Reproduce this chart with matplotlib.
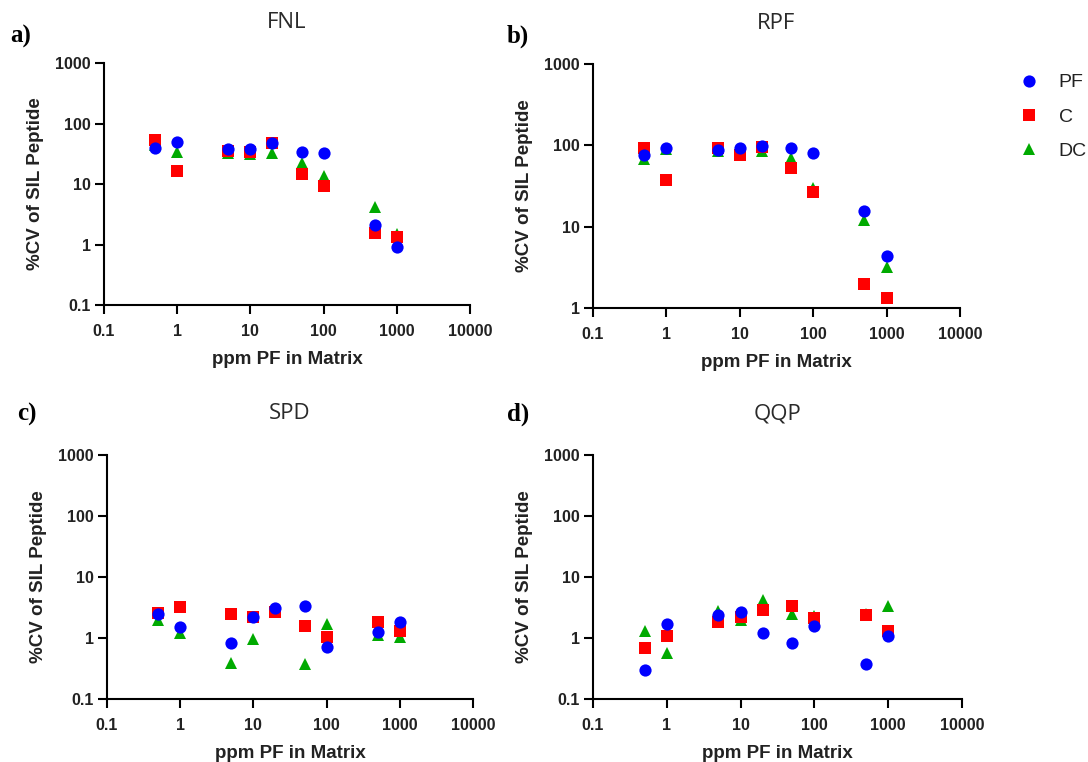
import matplotlib
matplotlib.use('Agg')
import matplotlib.pyplot as plt
from matplotlib.lines import Line2D


conc = [0.5, 1, 5, 10, 20, 50, 100, 500, 1000]
series_names = ['PF', 'C', 'DC']

fnl_pf = [40, 49, 38, 38, 48, 33.5, 32, 2.1, 0.92]
fnl_c = [53, 16.5, 35, 34, 48, 14.5, 9.3, 1.53, 1.35]
fnl_dc = [45, 34, 32.5, 31.5, 32, 22.5, 13.6, 4.1, 1.5]

rpf_pf = [76, 92, 88, 92, 99, 92, 81, 15.7, 4.35]
rpf_c = [94, 38, 94, 76, 96, 52, 27, 1.97, 1.32]
rpf_dc = [67, 90, 86, 88, 86, 69, 30, 12, 3.16]

spd_pf = [2.5, 1.5, 0.83, 2.2, 3.16, 3.37, 0.71, 1.25, 1.8]
spd_c = [2.6, 3.2, 2.5, 2.2, 2.7, 1.58, 1.02, 1.82, 1.28]
spd_dc = [1.94, 1.2, 0.39, 0.97, 2.8, 0.38, 1.7, 1.1, 1.05]

qqp_pf = [0.3, 1.69, 2.34, 2.65, 1.19, 0.83, 1.58, 0.38, 1.06]
qqp_c = [0.68, 1.06, 1.86, 2.2, 2.9, 3.3, 2.1, 2.4, 1.28]
qqp_dc = [1.28, 0.57, 2.8, 2.0, 4.2, 2.5, 2.3, 2.5, 3.4]

x_ticks = [0.1, 1, 10, 100, 1000, 10000]
x_tick_labels = ['0.1', '1', '10', '100', '1000', '10000']
y_ticks = [0.1, 1, 10, 100, 1000]
y_tick_labels = ['0.1', '1', '10', '100', '1000']

COLORS = {'PF': '#0000FF', 'C': '#FF0000', 'DC': '#00AA00'}
MARKERS = {'PF': 'o', 'C': 's', 'DC': '^'}
SIZES = {'PF': 8.8, 'C': 8.2, 'DC': 8.6}
ZORDER = {'PF': 5, 'C': 4, 'DC': 3}

SANS = ['Liberation Sans', 'DejaVu Sans']
TEXT_GREY = '#222222'


def draw_panel(fig, rect, title, series, y_min):
    ax = fig.add_axes(rect)
    ax.set_xscale('log')
    ax.set_yscale('log')

    # green first, then red, blue on top (as in the reference)
    for name in ['DC', 'C', 'PF']:
        ax.plot(conc, series[name], linestyle='none',
                marker=MARKERS[name], markersize=SIZES[name],
                color=COLORS[name], markeredgewidth=0,
                zorder=ZORDER[name], clip_on=False)

    ax.set_xlim(0.1, 10000)
    ax.set_ylim(y_min, 1000)

    ax.set_xticks(x_ticks)
    ax.set_xticklabels(x_tick_labels)
    yt = [(t, l) for t, l in zip(y_ticks, y_tick_labels) if t >= y_min]
    ax.set_yticks([t for t, _ in yt])
    ax.set_yticklabels([l for _, l in yt])
    ax.minorticks_off()

    for side in ['top', 'right']:
        ax.spines[side].set_visible(False)
    for side in ['left', 'bottom']:
        ax.spines[side].set_linewidth(1.5)
        ax.spines[side].set_color('black')

    ax.tick_params(axis='both', direction='out', length=6.5, width=1.5,
                   colors='black', labelcolor=TEXT_GREY, labelsize=11.5)
    ax.tick_params(axis='x', pad=7)
    ax.tick_params(axis='y', pad=3)
    for lab in ax.get_xticklabels() + ax.get_yticklabels():
        lab.set_fontweight('bold')
        lab.set_family(SANS)

    ax.set_xlabel('ppm PF in Matrix', fontsize=13.5, fontweight='bold',
                  family=SANS, color=TEXT_GREY, labelpad=9)
    ax.set_ylabel('%CV of SIL Peptide', fontsize=13.5, fontweight='bold',
                  family=SANS, color=TEXT_GREY, labelpad=8)

    ax.text(0.5, 1.0 + 41 / (rect[3] * 762), title, transform=ax.transAxes,
            ha='center', va='center', fontsize=16, color='#2a2a2a',
            fontweight=500, family=['Open Sans', 'DejaVu Sans'])
    return ax


fig = plt.figure(figsize=(10.88, 7.62), dpi=100)

panels = [
    ([0.0956, 0.5997, 0.3364, 0.3176], 'FNL',
     {'PF': fnl_pf, 'C': fnl_c, 'DC': fnl_dc}, 0.1),
    ([0.5450, 0.5958, 0.3373, 0.3202], 'RPF',
     {'PF': rpf_pf, 'C': rpf_c, 'DC': rpf_dc}, 1),
    ([0.0983, 0.0827, 0.3364, 0.3202], 'SPD',
     {'PF': spd_pf, 'C': spd_c, 'DC': spd_dc}, 0.1),
    ([0.5450, 0.0827, 0.3392, 0.3202], 'QQP',
     {'PF': qqp_pf, 'C': qqp_c, 'DC': qqp_dc}, 0.1),
]
letters = ['a)', 'b)', 'c)', 'd)']
letter_pos = [(10, 36), (507, 36), (17, 414), (507, 414)]

for (rect, title, series, y_min), letter, (lx, ly) in zip(panels, letters, letter_pos):
    draw_panel(fig, rect, title, series, y_min)
    fig.text(lx / 1088, 1 - ly / 762, letter, ha='left', va='center',
             fontsize=18, fontweight='bold',
             family=['Liberation Serif', 'DejaVu Serif'])

# legend sits to the right of panel b
handles = [Line2D([], [], linestyle='none', marker=MARKERS[n],
                  markersize=SIZES[n], color=COLORS[n], markeredgewidth=0)
           for n in series_names]
fig.legend(handles, series_names, loc='upper left',
           bbox_to_anchor=(1010 / 1088, 1 - 66 / 762), frameon=False,
           prop={'family': SANS, 'size': 14}, labelcolor=TEXT_GREY,
           handletextpad=0.9, labelspacing=0.85, handlelength=1.2,
           borderaxespad=0)

fig.savefig('out.png', dpi=100)
